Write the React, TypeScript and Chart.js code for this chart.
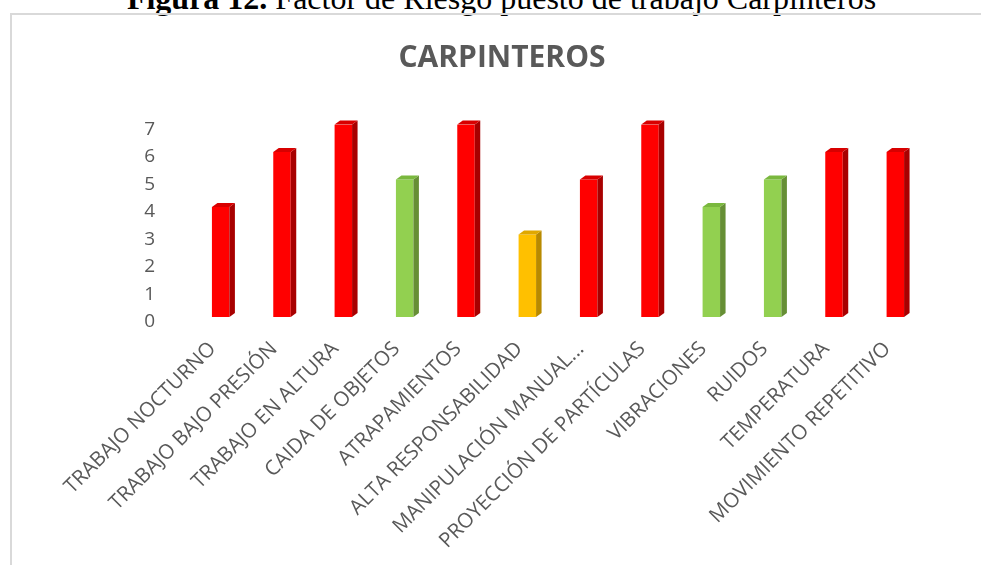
import React, { useEffect, useRef } from "react";
import { Chart, registerables } from "chart.js";

Chart.register(...registerables);

// Risk factors evaluated for the carpenter position
const categories = [
  "TRABAJO NOCTURNO",
  "TRABAJO BAJO PRESIÓN",
  "TRABAJO EN ALTURA",
  "CAIDA DE OBJETOS",
  "ATRAPAMIENTOS",
  "ALTA RESPONSABILIDAD",
  "MANIPULACIÓN MANUAL...",
  "PROYECCIÓN DE PARTÍCULAS",
  "VIBRACIONES",
  "RUIDOS",
  "TEMPERATURA",
  "MOVIMIENTO REPETITIVO",
];
const values = [4, 6, 7, 5, 7, 3, 5, 7, 4, 5, 6, 6];
const riskLevels = [
  "alto", "alto", "alto", "bajo", "alto", "medio",
  "alto", "alto", "bajo", "bajo", "alto", "alto",
];
const yMin = 0;
const yMax = 7;
const yStep = 1;
const chartTitle = "CARPINTEROS";

const palette: Record<string, { front: string; top: string; side: string }> = {
  alto: { front: "#ff0000", top: "#d80000", side: "#a80000" },
  medio: { front: "#ffc000", top: "#e0a800", side: "#b88a00" },
  bajo: { front: "#92d050", top: "#7ab83e", side: "#668f35" },
};

const TEXT_GREY = "#595959";
const FONT = "'Open Sans', sans-serif";

// Draws the right side and top faces so each column reads as a 3-D prism
const columnDepth = {
  id: "columnDepth",
  afterDatasetsDraw(chart: any) {
    const ctx = chart.ctx as CanvasRenderingContext2D;
    const meta = chart.getDatasetMeta(0);
    const dx = 5.5;
    const dy = 4;
    meta.data.forEach((bar: any, i: number) => {
      const { x, y, base, width } = bar.getProps(["x", "y", "base", "width"], true);
      const left = x - width / 2;
      const right = x + width / 2;
      const colors = palette[riskLevels[i]];
      ctx.save();
      ctx.fillStyle = colors.side;
      ctx.beginPath();
      ctx.moveTo(right, y);
      ctx.lineTo(right + dx, y - dy);
      ctx.lineTo(right + dx, base - dy);
      ctx.lineTo(right, base);
      ctx.closePath();
      ctx.fill();
      ctx.fillStyle = colors.top;
      ctx.beginPath();
      ctx.moveTo(left, y);
      ctx.lineTo(left + dx, y - dy);
      ctx.lineTo(right + dx, y - dy);
      ctx.lineTo(right, y);
      ctx.closePath();
      ctx.fill();
      ctx.restore();
    });
  },
};

// Chart heading, centred on the framed chart box
const frameTitle = {
  id: "frameTitle",
  afterDraw(chart: any) {
    const ctx = chart.ctx as CanvasRenderingContext2D;
    ctx.save();
    ctx.font = `bold 30px ${FONT}`;
    ctx.fillStyle = TEXT_GREY;
    ctx.textAlign = "center";
    ctx.textBaseline = "middle";
    ctx.fillText(chartTitle, 502, 58);
    ctx.restore();
  },
};

function RiskChart() {
  const canvasRef = useRef<HTMLCanvasElement | null>(null);

  useEffect(() => {
    if (!canvasRef.current) return;
    const chart = new Chart(canvasRef.current, {
      type: "bar",
      data: {
        labels: categories,
        datasets: [
          {
            data: values,
            backgroundColor: riskLevels.map((r) => palette[r].front),
            borderWidth: 0,
            barPercentage: 0.285,
            categoryPercentage: 1,
          },
        ],
      },
      options: {
        responsive: false,
        animation: false,
        devicePixelRatio: 1,
        layout: { padding: { left: 0, right: 55, top: 124.5, bottom: 0 } },
        plugins: {
          legend: { display: false },
          tooltip: { enabled: false },
          title: { display: false },
        },
        scales: {
          x: {
            grid: { display: false },
            border: { display: false },
            ticks: {
              autoSkip: false,
              maxRotation: 45,
              minRotation: 45,
              color: TEXT_GREY,
              font: { family: FONT, size: 20.5 },
              padding: 12,
              labelOffset: -8,
            },
            afterFit(scale: any) {
              scale.height = 248;
            },
          },
          y: {
            min: yMin,
            max: yMax,
            grid: { display: false },
            border: { display: false },
            ticks: {
              stepSize: yStep,
              color: TEXT_GREY,
              font: { family: FONT, size: 19 },
              padding: 27,
              labelOffset: 5,
            },
            afterFit(scale: any) {
              scale.width = 190;
            },
          },
        },
      },
      plugins: [columnDepth, frameTitle],
    });
    return () => chart.destroy();
  }, []);

  return <canvas ref={canvasRef} width={981} height={565} style={{ position: "absolute", left: 0, top: 0 }} />;
}

export default function App() {
  return (
    <div
      style={{
        position: "fixed",
        left: 0,
        top: 0,
        width: 981,
        height: 565,
        overflow: "hidden",
        background: "#ffffff",
      }}
    >
      <div
        style={{
          position: "absolute",
          left: 22,
          width: 959,
          top: -18,
          textAlign: "center",
          fontFamily: "'Liberation Serif', 'Times New Roman', serif",
          fontSize: 32,
          lineHeight: 1,
          color: "#000",
          whiteSpace: "nowrap",
        }}
      >
        <b>Figura 12.</b> Factor de Riesgo puesto de trabajo Carpinteros
      </div>
      <div
        style={{
          position: "absolute",
          left: 10,
          top: 13,
          width: 1000,
          height: 600,
          borderLeft: "2px solid #d9d9d9",
          borderTop: "2px solid #d9d9d9",
        }}
      />
      <RiskChart />
    </div>
  );
}
